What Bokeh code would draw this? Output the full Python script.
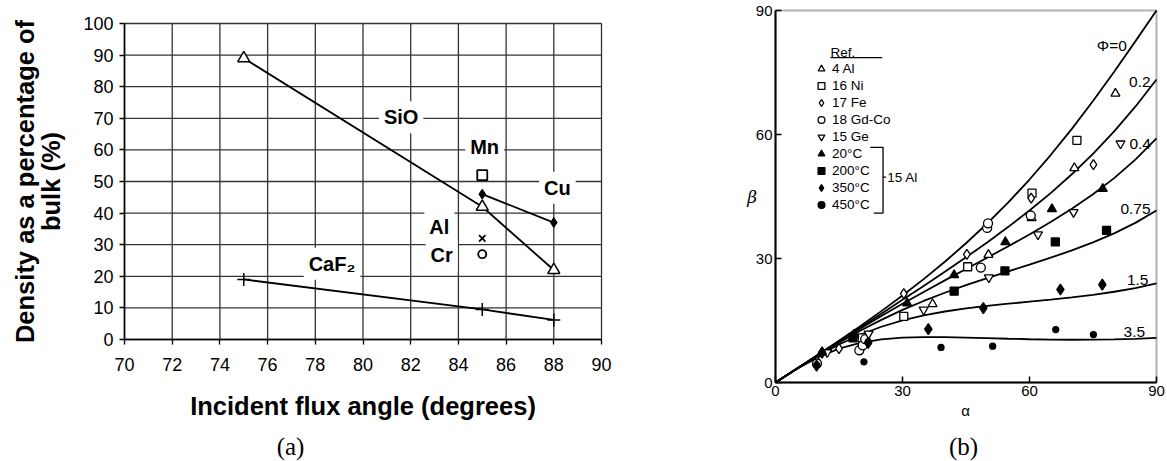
import math
from bokeh.plotting import figure
from bokeh.models import (Label, Range1d, FixedTicker, Legend, LegendItem, ColumnDataSource,
                          LinearAxis, BoxAnnotation)
from bokeh.layouts import row
from bokeh.embed import file_html
from bokeh.resources import INLINE
from bokeh.core.properties import value

# ---------------- Panel (a) data ----------------
angle_ticks = [70, 72, 74, 76, 78, 80, 82, 84, 86, 88, 90]
density_ticks = [0, 10, 20, 30, 40, 50, 60, 70, 80, 90, 100]

sio_angle = [75, 85, 88]
sio_density = [89, 42, 22]
cu_angle = [85, 88]
cu_density = [46, 37]
caf2_angle = [75, 85, 88]
caf2_density = [19, 9.5, 6.2]
mn_angle = [85]
mn_density = [52]
al_angle = [85]
al_density = [32]
cr_angle = [85]
cr_density = [27]

material_names = ["SiO", "Mn", "Cu", "Al", "Cr", "CaF\u2082"]
material_label_x = [81.6, 85.1, 88.15, 83.2, 83.3, 78.7]
material_label_y = [70.3, 61.0, 48.0, 35.5, 26.6, 24.0]

# ---------------- Panel (b) data ----------------
ab_ticks = [0, 30, 60, 90]

curve_alpha = [0, 5, 10, 15, 20, 25, 30, 35, 40, 45, 50, 55, 60, 65, 70, 75, 80, 85, 90]
beta_phi_0 = [0, 3.34, 6.70, 10.13, 13.64, 17.27, 21.05, 25.02, 29.22, 33.69, 38.47, 43.59, 49.11, 55.03, 61.37, 68.10, 75.18, 82.53, 90.0]
beta_phi_02 = [0, 3.33, 6.66, 9.99, 13.32, 16.65, 20.00, 23.37, 26.79, 30.29, 33.89, 37.66, 41.61, 45.83, 50.38, 55.33, 60.75, 66.73, 73.30]
beta_phi_04 = [0, 3.33, 6.62, 9.86, 13.02, 16.08, 19.04, 21.91, 24.71, 27.46, 30.20, 32.97, 35.82, 38.82, 42.02, 45.53, 49.45, 53.91, 59.04]
beta_phi_075 = [0, 3.32, 6.55, 9.64, 12.51, 15.16, 17.56, 19.73, 21.72, 23.54, 25.25, 26.89, 28.52, 30.19, 31.95, 33.89, 36.08, 38.62, 41.63]
beta_phi_15 = [0, 3.30, 6.41, 9.19, 11.56, 13.49, 15.04, 16.24, 17.18, 17.93, 18.54, 19.06, 19.56, 20.06, 20.60, 21.22, 21.96, 22.85, 23.96]
beta_phi_35 = [0, 3.25, 6.06, 8.18, 9.59, 10.42, 10.84, 10.98, 10.96, 10.86, 10.72, 10.59, 10.47, 10.38, 10.34, 10.36, 10.43, 10.57, 10.78]

curve_names = ["\u03a6=0", "0.2", "0.4", "0.75", "1.5", "3.5"]
curve_label_alpha = [83.0, 88.6, 88.7, 88.6, 88.1, 87.3]
curve_label_beta = [81.5, 72.6, 57.7, 42.0, 24.7, 12.2]

al4_alpha = [37.1, 50.3, 60.5, 70.6, 80.3]
al4_beta = [19.0, 30.9, 39.8, 51.9, 69.9]
ni16_alpha = [20.5, 30.3, 45.4, 60.6, 71.2]
ni16_beta = [10.8, 16.0, 28.0, 45.8, 58.6]
fe17_alpha = [9.8, 15.0, 30.3, 45.2, 60.4, 75.1]
fe17_beta = [5.2, 8.2, 21.5, 31.0, 44.6, 52.7]
gdco18_alpha = [9.8, 19.8, 20.6, 21.2, 48.5, 50.0, 50.2, 60.3]
gdco18_beta = [4.6, 7.8, 9.0, 10.5, 27.8, 37.4, 38.5, 40.4]
ge15_alpha = [12.2, 22.0, 35.0, 50.4, 62.0, 70.4, 81.5]
ge15_beta = [7.3, 11.8, 17.6, 25.4, 35.8, 41.2, 57.8]
t20_alpha = [11.0, 18.6, 31.1, 42.2, 54.3, 65.3, 77.3]
t20_beta = [7.4, 11.6, 19.2, 26.0, 34.0, 42.0, 46.9]
t200_alpha = [18.3, 42.2, 54.2, 66.1, 78.2]
t200_beta = [10.8, 22.1, 27.0, 34.0, 36.8]
t350_alpha = [9.7, 11.0, 21.9, 36.1, 49.1, 67.3, 77.2]
t350_beta = [4.1, 7.2, 9.6, 12.9, 18.0, 22.5, 23.7]
t450_alpha = [9.8, 20.9, 21.9, 39.1, 51.3, 66.2, 75.1]
t450_beta = [4.2, 5.0, 9.8, 8.5, 8.8, 12.8, 11.6]

legend_labels = ["4 Al", "16 Ni", "17 Fe", "18 Gd-Co", "15 Ge", "20\u00b0C", "200\u00b0C", "350\u00b0C", "450\u00b0C"]

FONT = "Liberation Sans"
INK = "black"


def bare_figure(w, h, xr, yr):
    p = figure(width=w, height=h, output_backend="svg", toolbar_location=None, title=None,
               x_range=Range1d(*xr), y_range=Range1d(*yr),
               x_axis_location=None, y_axis_location=None,
               min_border=0, min_border_left=0, min_border_right=0,
               min_border_top=0, min_border_bottom=0)
    p.outline_line_color = None
    p.grid.visible = False
    p.background_fill_color = "white"
    p.border_fill_color = "white"
    return p


def txt(x, y, text, size, font=FONT, style="normal", align="center", angle=0.0, **kw):
    return Label(x=x, y=y, text=text, text_font=font, text_font_style=style,
                 text_font_size=size, text_align=align, text_baseline="middle",
                 text_color=INK, angle=angle, **kw)


# ================= Panel (a) =================
# frame = whole canvas; the 70..90 / 0..100 box sits at px x 124..601, y 23..339
pa = bare_figure(640, 461, (64.80, 91.635), (-38.61, 107.28))

n_a = len(angle_ticks)
n_d = len(density_ticks)
pa.segment(x0=angle_ticks, y0=[density_ticks[0]] * n_a, x1=angle_ticks, y1=[density_ticks[-1]] * n_a,
           line_color="#333333", line_width=1.3)
pa.segment(x0=[angle_ticks[0]] * n_d, y0=density_ticks, x1=[angle_ticks[-1]] * n_d, y1=density_ticks,
           line_color="#333333", line_width=1.3)

xa = LinearAxis(fixed_location=0, bounds=(70, 90), ticker=FixedTicker(ticks=angle_ticks))
ya = LinearAxis(fixed_location=70, bounds=(0, 100), ticker=FixedTicker(ticks=density_ticks))
for ax in (xa, ya):
    ax.axis_line_color = INK
    ax.axis_line_width = 1.6
    ax.major_tick_line_color = INK
    ax.major_tick_line_width = 1.3
    ax.major_tick_out = 5
    ax.major_tick_in = 0
    ax.minor_tick_line_color = None
    ax.major_label_text_font = FONT
    ax.major_label_text_font_size = "18px"
    ax.major_label_text_color = INK
xa.major_label_standoff = 14
ya.major_label_standoff = 6
pa.add_layout(xa, "below")
pa.add_layout(ya, "left")

pa.line(sio_angle, sio_density, line_color=INK, line_width=1.8)
pa.line(cu_angle, cu_density, line_color=INK, line_width=1.8)
pa.line(caf2_angle, caf2_density, line_color=INK, line_width=1.8)
pa.scatter(sio_angle, sio_density, marker="triangle", size=12, fill_color="white", line_color=INK, line_width=1.5)
pa.scatter(cu_angle, cu_density, marker="diamond", size=10, fill_color=INK, line_color=INK)
pa.scatter(caf2_angle, caf2_density, marker="cross", size=13, line_color=INK, line_width=1.5)
pa.scatter(mn_angle, mn_density, marker="square", size=10, fill_color="white", line_color=INK, line_width=1.8)
pa.scatter(al_angle, al_density, marker="x", size=9, line_color=INK, line_width=1.8)
pa.scatter(cr_angle, cr_density, marker="circle", size=8, fill_color="white", line_color=INK, line_width=1.8)

for name, lx, ly in zip(material_names, material_label_x, material_label_y):
    pa.add_layout(txt(lx, ly, name, "20px", style="bold",
                      background_fill_color="white", padding=5))

pa.add_layout(txt(80, -20.9, "Incident flux angle (degrees)", "25.5px", style="bold"))
pa.add_layout(txt(65.81, 50.0, "Density as a percentage of", "25.5px", style="bold", angle=math.pi / 2))
pa.add_layout(txt(66.90, 50.0, "bulk (%)", "25.5px", style="bold", angle=math.pi / 2))
pa.add_layout(txt(76.96, -33.9, "(a)", "25px", font="Liberation Serif"))

# ================= Panel (b) =================
# frame = whole canvas; the 0..90 box sits at px x 775..1156 (page), y 10..382
pb = bare_figure(527, 461, (-31.89, 92.60), (-19.11, 92.42))

xb = LinearAxis(fixed_location=0, bounds=(0, 90), ticker=FixedTicker(ticks=ab_ticks))
yb = LinearAxis(fixed_location=0, bounds=(0, 90), ticker=FixedTicker(ticks=ab_ticks))
for ax in (xb, yb):
    ax.axis_line_color = INK
    ax.axis_line_width = 2
    ax.major_tick_line_color = INK
    ax.major_tick_line_width = 1.5
    ax.major_tick_in = 6
    ax.major_tick_out = 0
    ax.minor_tick_line_color = None
    ax.major_label_text_font = FONT
    ax.major_label_text_font_size = "15px"
    ax.major_label_text_color = INK
    ax.major_label_standoff = 3
pb.add_layout(xb, "below")
pb.add_layout(yb, "left")
pb.add_layout(BoxAnnotation(left=0, right=90, bottom=0, top=90, fill_alpha=0,
                            line_color=INK, line_width=2))

for bvals in (beta_phi_0, beta_phi_02, beta_phi_04, beta_phi_075, beta_phi_15, beta_phi_35):
    pb.line(curve_alpha, bvals, line_color=INK, line_width=1.8)

lab_src = ColumnDataSource(dict(x=curve_label_alpha, y=curve_label_beta, t=curve_names))
pb.text(x="x", y="y", text="t", source=lab_src, text_font=value(FONT), text_font_size="15.5px",
        text_align="right", text_baseline="middle", text_color=INK)

series = [
    (al4_alpha, al4_beta, "triangle", "white", 9),
    (ni16_alpha, ni16_beta, "square", "white", 8),
    (fe17_alpha, fe17_beta, "diamond", "white", 10),
    (gdco18_alpha, gdco18_beta, "circle", "white", 9),
    (ge15_alpha, ge15_beta, "inverted_triangle", "white", 9),
    (t20_alpha, t20_beta, "triangle", "black", 9),
    (t200_alpha, t200_beta, "square", "black", 8),
    (t350_alpha, t350_beta, "diamond", "black", 11),
    (t450_alpha, t450_beta, "circle", "black", 6),
]
items = []
for (xs_, ys_, mk, fc, sz), lab in zip(series, legend_labels):
    r = pb.scatter(xs_, ys_, marker=mk, size=sz, fill_color=fc, line_color=INK, line_width=1.3)
    items.append(LegendItem(label=lab, renderers=[r]))

legend = Legend(items=items, location=(171, 248), orientation="vertical",
                background_fill_alpha=0, border_line_color=None, padding=0, margin=0,
                spacing=0, glyph_height=17, glyph_width=20, label_height=17,
                label_standoff=1, label_text_font=FONT, label_text_font_size="13.5px",
                label_text_color=INK)
pb.add_layout(legend)

pb.add_layout(txt(13.0, 79.9, "Ref.", "13.5px", align="left"))
deco_xs = [[13.0, 25.2], [22.4, 25.4, 25.4, 23.2], [25.4, 26.1]]
deco_ys = [[78.6, 78.6], [56.9, 56.9, 41.0, 41.0], [49.7, 49.7]]
pb.multi_line(deco_xs, deco_ys, line_color=INK, line_width=1.3)
pb.add_layout(txt(26.4, 49.7, "15 Al", "13.5px", align="left"))
pb.add_layout(txt(-5.5, 45, "\u03b2", "17px", font="DejaVu Serif", style="italic"))
pb.add_layout(txt(44.9, -6.8, "\u03b1", "15px"))
pb.add_layout(txt(44.4, -15.5, "(b)", "25px", font="Liberation Serif"))

layout = row(pa, pb)
open("out.html", "w").write(file_html(layout, INLINE))
